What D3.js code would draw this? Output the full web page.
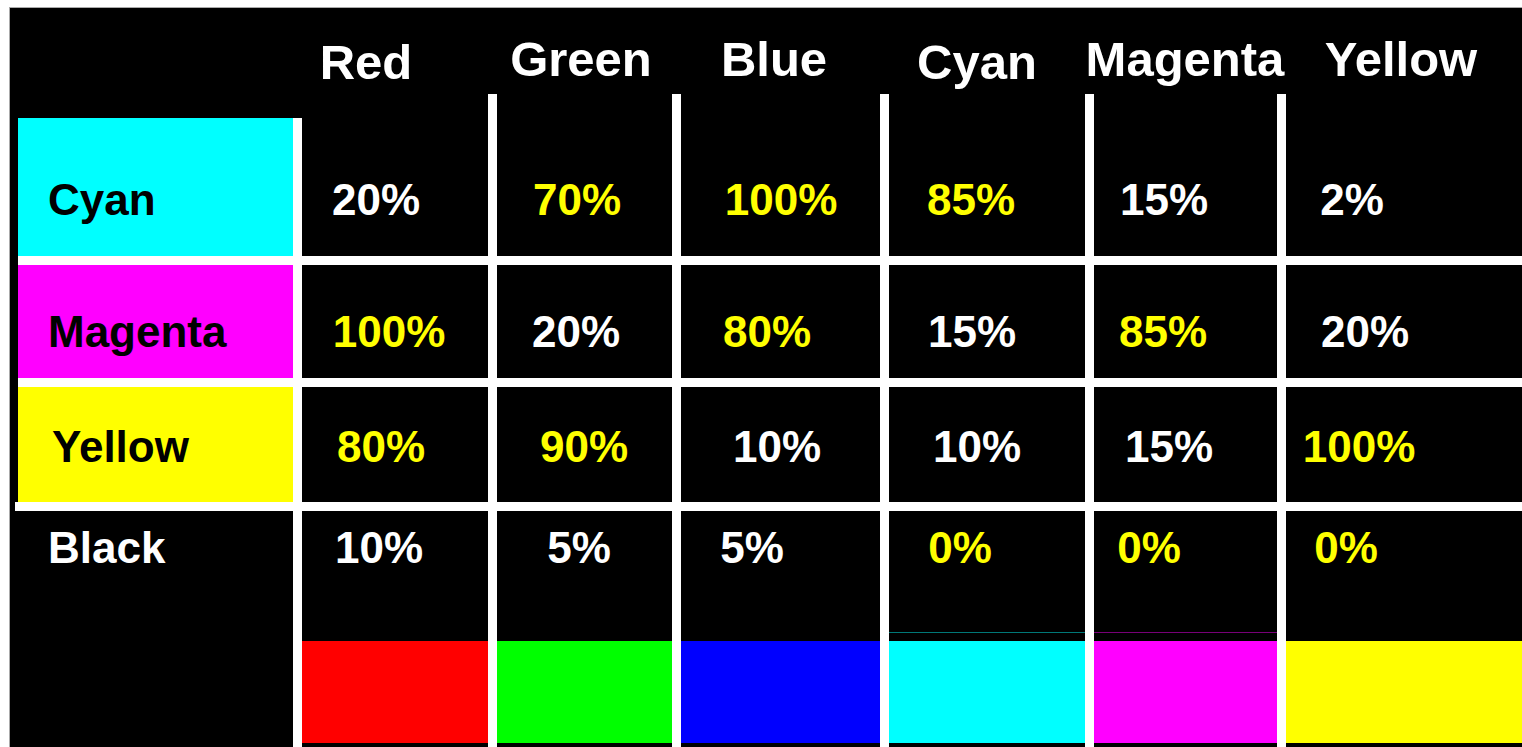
<!DOCTYPE html>
<html>
<head>
<meta charset="utf-8">
<script src="https://cdn.jsdelivr.net/npm/d3@7"></script>
<style>
body { margin: 0; background: #fff; }
svg { display: block; }
text { font-family: "Liberation Sans", Arial, sans-serif; font-weight: bold; }
</style>
</head>
<body>
<svg id="svg" width="1522" height="747"></svg>
<script>
// data
var columns = ["Red", "Green", "Blue", "Cyan", "Magenta", "Yellow"];
var columnColors = ["#ff0000", "#00ff00", "#0000ff", "#00ffff", "#ff00ff", "#ffff00"];
var rows = ["Cyan", "Magenta", "Yellow", "Black"];
var rowColors = ["#00ffff", "#ff00ff", "#ffff00", "#000000"];
var cyanValues = [20, 70, 100, 85, 15, 2];
var magentaValues = [100, 20, 80, 15, 85, 20];
var yellowValues = [80, 90, 10, 10, 15, 100];
var blackValues = [10, 5, 5, 0, 0, 0];
// 1 = shown in yellow
var cyanHigh = [0, 1, 1, 1, 0, 0];
var magentaHigh = [1, 0, 1, 0, 1, 0];
var yellowHigh = [1, 1, 0, 0, 0, 1];
var blackHigh = [0, 0, 0, 1, 1, 1];

var allValues = [cyanValues, magentaValues, yellowValues, blackValues];
var allHigh = [cyanHigh, magentaHigh, yellowHigh, blackHigh];

// layout
var W = 1522, H = 747;
var lineW = 9;
var colLines = [293, 488, 672, 880, 1085, 1277];   // left edge of each white divider
var rowLines = [256, 378, 502];                     // top edge of each white divider
var rowTops = [118, 265, 387, 511];
var headerX = [366, 581, 774, 977, 1185, 1401];
var valueX = [381, 579, 769, 970, 1161, 1356];
var rowBase = [215, 347, 462, 563];
// the hand-placed labels in the original sit a bit off the column centre
var nudge = [
	[-5, -2, 12, 1, 3, -4],
	[8, -3, -2, 2, 2, 9],
	[0, 5, 8, 7, 8, 3],
	[-2, 0, -17, -10, -12, -10]
];

var svg = d3.select("#svg");

// scales
var colLeft = d3.scaleOrdinal().domain(columns).range(colLines.map(function(d){return d + lineW;}));
var colRight = d3.scaleOrdinal().domain(columns).range(colLines.slice(1).concat([W]));
var headX = d3.scaleOrdinal().domain(columns).range(headerX);
var valX = d3.scaleOrdinal().domain(columns).range(valueX);
var rowY = d3.scaleOrdinal().domain(rows).range(rowBase);
var rowTop = d3.scaleOrdinal().domain(rows).range(rowTops);
var rowBottom = d3.scaleOrdinal().domain(rows).range(rowLines.concat([H]));
var colFill = d3.scaleOrdinal().domain(columns).range(columnColors);
var rowFill = d3.scaleOrdinal().domain(rows).range(rowColors);

// background
svg.append("rect")
	.attr("x", 9.5).attr("y", 7.5)
	.attr("width", W).attr("height", H)
	.attr("fill", "#000")
	.attr("stroke", "#aaa")
	.attr("stroke-width", 1);

// row label boxes
var labelRows = rows.filter(function(r){return r != "Black";});
svg.selectAll(".rowbox").data(labelRows).enter()
	.append("rect")
	.attr("class", "rowbox")
	.attr("x", 18)
	.attr("y", function(d){return rowTop(d);})
	.attr("width", colLines[0] - 18)
	.attr("height", function(d){return rowBottom(d) - rowTop(d);})
	.attr("fill", function(d){return rowFill(d);});

// bottom swatches
svg.selectAll(".swatch").data(columns).enter()
	.append("rect")
	.attr("class", "swatch")
	.attr("x", function(d){return colLeft(d);})
	.attr("y", 641)
	.attr("width", function(d){return colRight(d) - colLeft(d);})
	.attr("height", 102)
	.attr("fill", function(d){return colFill(d);});

// faint lines above cyan / magenta swatches
svg.selectAll(".faint").data(["Cyan", "Magenta"]).enter()
	.append("rect")
	.attr("x", function(d){return colLeft(d);})
	.attr("y", 632)
	.attr("width", function(d){return colRight(d) - colLeft(d);})
	.attr("height", 1)
	.attr("fill", function(d){return d == "Cyan" ? "#007878" : "#780078";});

// white grid lines
svg.selectAll(".vline").data(colLines).enter()
	.append("rect")
	.attr("class", "vline")
	.attr("x", function(d){return d;})
	.attr("y", function(d, i){return i == 0 ? 118 : 94;})
	.attr("width", lineW)
	.attr("height", function(d, i){return H - (i == 0 ? 118 : 94);})
	.attr("fill", "#fff");

svg.selectAll(".hline").data(rowLines).enter()
	.append("rect")
	.attr("class", "hline")
	.attr("x", function(d, i){return i == 2 ? 15 : 18;})
	.attr("y", function(d){return d;})
	.attr("width", W)
	.attr("height", lineW)
	.attr("fill", "#fff");

// headers
svg.selectAll(".header").data(columns).enter()
	.append("text")
	.attr("class", "header")
	.attr("x", function(d){return headX(d);})
	.attr("y", function(d){return (d == "Red" || d == "Cyan") ? 79 : 76;})
	.attr("text-anchor", "middle")
	.attr("font-size", 49)
	.attr("fill", "#fff")
	.text(function(d){return d;});

// row labels
svg.selectAll(".rowlabel").data(rows).enter()
	.append("text")
	.attr("class", "rowlabel")
	.attr("x", function(d){return d == "Yellow" ? 52 : 48;})
	.attr("y", function(d){return rowY(d);})
	.attr("font-size", 44)
	.attr("fill", function(d){return d == "Black" ? "#fff" : "#000";})
	.text(function(d){return d;});

// values
var cells = [];
rows.forEach(function(r, i) {
	columns.forEach(function(c, j) {
		cells.push({row: r, col: c, value: allValues[i][j], high: allHigh[i][j], dx: nudge[i][j]});
	});
});

svg.selectAll(".value").data(cells).enter()
	.append("text")
	.attr("class", "value")
	.attr("x", function(d){return valX(d.col) + d.dx;})
	.attr("y", function(d){return rowY(d.row);})
	.attr("text-anchor", "middle")
	.attr("font-size", 44)
	.attr("fill", function(d){return d.high ? "#ffff00" : "#fff";})
	.text(function(d){return d.value + "%";});
</script>
</body>
</html>
